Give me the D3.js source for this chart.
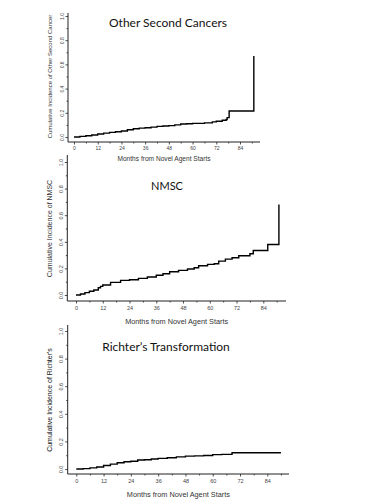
<!DOCTYPE html>
<html>
<head>
<meta charset="utf-8">
<script src="https://cdn.jsdelivr.net/npm/d3@7"></script>
<style>
  body { margin: 0; background: #fff; }
  svg { display: block; }
  .axis path, .axis line { stroke: #222; }
  .axis text { fill: #444; font-family: 'Liberation Sans', Arial, sans-serif; }
  .title { font-family: Lato, 'Open Sans', sans-serif; fill: #111; }
  .ytitle, .xtitle { font-family: 'Liberation Sans', Arial, sans-serif; fill: #333; }
</style>
</head>
<body>
<svg id="chart" width="374" height="500"></svg>
<script>
// months at each step of the cumulative incidence curves
const otherMonths = [0, 3, 6, 9, 12, 15, 18, 21, 24, 27, 30, 33, 36, 39, 42, 45, 48, 51, 54, 57, 60, 66, 70, 72, 75, 77, 77.5, 78.5, 91];
const otherValues = [0, 0.005, 0.01, 0.017, 0.025, 0.032, 0.038, 0.044, 0.05, 0.06, 0.068, 0.073, 0.077, 0.082, 0.088, 0.091, 0.094, 0.1, 0.108, 0.11, 0.113, 0.117, 0.125, 0.13, 0.138, 0.145, 0.16, 0.215, 0.67];

const nmscMonths = [0, 2, 4, 6, 8, 10, 11, 12, 15.5, 20, 24, 28, 32, 36, 39, 42, 46, 50, 53, 55, 59, 62, 64, 67, 70, 73, 78, 79.5, 86, 91];
const nmscValues = [0, 0.008, 0.018, 0.028, 0.038, 0.055, 0.065, 0.075, 0.095, 0.11, 0.115, 0.125, 0.135, 0.148, 0.16, 0.175, 0.185, 0.195, 0.205, 0.22, 0.23, 0.235, 0.255, 0.27, 0.28, 0.295, 0.31, 0.335, 0.38, 0.68];

const richterMonths = [0, 3, 6, 9, 12, 15, 18, 21, 24, 27, 30, 33, 36, 40, 44, 48, 52, 56, 60, 64, 68.5, 90];
const richterValues = [0, 0.003, 0.008, 0.015, 0.025, 0.035, 0.045, 0.052, 0.056, 0.065, 0.067, 0.072, 0.077, 0.082, 0.088, 0.093, 0.095, 0.098, 0.104, 0.106, 0.118, 0.118];

const xTicks = [0, 12, 24, 36, 48, 60, 72, 84];
const xMinorTicks = [6, 18, 30, 42, 54, 66, 78, 90];
const yTicks = [0, 0.2, 0.4, 0.6, 0.8, 1.0];
const yMinorTicks = [0.1, 0.3, 0.5, 0.7, 0.9];

const titles = ['Other Second Cancers', 'NMSC', 'Richter\u2019s Transformation'];
const yTitles = ['Cumulative Incidence of Other Second Cancer', 'Cumulative Incidence of NMSC', 'Cumulative Incidence of Richter\'s'];
const xTitle = 'Months from Novel Agent Starts';

//////////////////////////////////////////////////////////////////
// panel layout (pixels)
const panels = [
  { months: otherMonths, values: otherValues,
    x0: 74, x84: 240, xEnd: 260, y0: 137, y1: 16, axisX: 68, axisY: 142, yTop: 13,
    tickFont: 5, yTitleFont: 6, yTitleX: 52, yTitleFill: '#333', xTitleFont: 6.6, xTitleY: 161, tickLabelY: 8,
    title: { x: 168, y: 27, size: 12 } },
  { months: nmscMonths, values: nmscValues,
    x0: 76, x84: 263.3, xEnd: 286, y0: 295, y1: 162, axisX: 67.3, axisY: 301, yTop: 155,
    tickFont: 5.5, yTitleFont: 7, yTitleX: 52, yTitleFill: '#333', xTitleFont: 7.3, xTitleY: 324, tickLabelY: 9,
    title: { x: 167, y: 190, size: 11 } },
  { months: richterMonths, values: richterValues,
    x0: 76.3, x84: 267.3, xEnd: 289, y0: 469, y1: 331, axisX: 67.7, axisY: 474, yTop: 325,
    tickFont: 5.5, yTitleFont: 7, yTitleX: 52, yTitleFill: '#111', xTitleFont: 7.3, xTitleY: 497, tickLabelY: 9,
    title: { x: 166, y: 351, size: 12 } }
];

const svg = d3.select('#chart');

panels.forEach((p, i) => {
  const g = svg.append('g');

  const x = d3.scaleLinear().domain([0, 84]).range([p.x0, p.x84]);
  const y = d3.scaleLinear().domain([0, 1]).range([p.y0, p.y1]);

  // axis lines (L shape)
  g.append('line')
    .attr('x1', p.axisX).attr('x2', p.axisX)
    .attr('y1', p.yTop).attr('y2', p.axisY)
    .attr('stroke', '#222').attr('stroke-width', 1);
  g.append('line')
    .attr('x1', p.axisX).attr('x2', p.xEnd)
    .attr('y1', p.axisY).attr('y2', p.axisY)
    .attr('stroke', '#222').attr('stroke-width', 1);

  // x axis
  const xAxis = g.append('g')
    .attr('class', 'axis')
    .attr('transform', `translate(0,${p.axisY})`)
    .call(d3.axisBottom(x).tickValues(xTicks).tickSize(2.5).tickPadding(3).tickFormat(d3.format('d')));
  xAxis.select('.domain').remove();
  xAxis.selectAll('.tick text')
    .attr('y', p.tickLabelY - 4)
    .style('font-size', `${p.tickFont}px`);

  g.append('g')
    .attr('class', 'axis')
    .attr('transform', `translate(0,${p.axisY})`)
    .call(d3.axisBottom(x).tickValues(xMinorTicks.filter(m => x(m) < p.xEnd)).tickSize(1.5).tickFormat(() => ''))
    .select('.domain').remove();

  // y axis
  const yAxis = g.append('g')
    .attr('class', 'axis')
    .attr('transform', `translate(${p.axisX},0)`)
    .call(d3.axisLeft(y).tickValues(yTicks).tickSize(2.5).tickFormat(d3.format('.1f')));
  yAxis.select('.domain').remove();
  yAxis.selectAll('.tick text')
    .attr('transform', 'rotate(-90)')
    .attr('x', 0)
    .attr('y', -4.5)
    .attr('dy', 0)
    .style('text-anchor', 'middle')
    .style('font-size', `${p.tickFont}px`);

  g.append('g')
    .attr('class', 'axis')
    .attr('transform', `translate(${p.axisX},0)`)
    .call(d3.axisLeft(y).tickValues(yMinorTicks).tickSize(1.5).tickFormat(() => ''))
    .select('.domain').remove();

  g.selectAll('.axis line').attr('stroke-width', 0.8);

  // axis titles
  g.append('text')
    .attr('class', 'xtitle')
    .attr('x', (p.axisX + p.xEnd) / 2)
    .attr('y', p.xTitleY)
    .attr('text-anchor', 'middle')
    .style('font-size', `${p.xTitleFont}px`)
    .text(xTitle);

  g.append('text')
    .attr('class', 'ytitle')
    .attr('transform', `translate(${p.yTitleX},${(y(0) + y(1)) / 2}) rotate(-90)`)
    .attr('text-anchor', 'middle')
    .style('font-size', `${p.yTitleFont}px`)
    .style('fill', p.yTitleFill)
    .text(yTitles[i]);

  // chart title
  g.append('text')
    .attr('class', 'title')
    .attr('x', p.title.x)
    .attr('y', p.title.y)
    .attr('text-anchor', 'middle')
    .style('font-size', `${p.title.size}px`)
    .text(titles[i]);

  // cumulative incidence step curve
  const pts = p.months.map((m, k) => [m, p.values[k]]);
  g.append('path')
    .datum(pts)
    .attr('fill', 'none')
    .attr('stroke', '#000')
    .attr('stroke-width', 1.4)
    .attr('d', d3.line()
      .x(d => x(d[0]))
      .y(d => y(d[1]))
      .curve(d3.curveStepAfter));
});
</script>
</body>
</html>
